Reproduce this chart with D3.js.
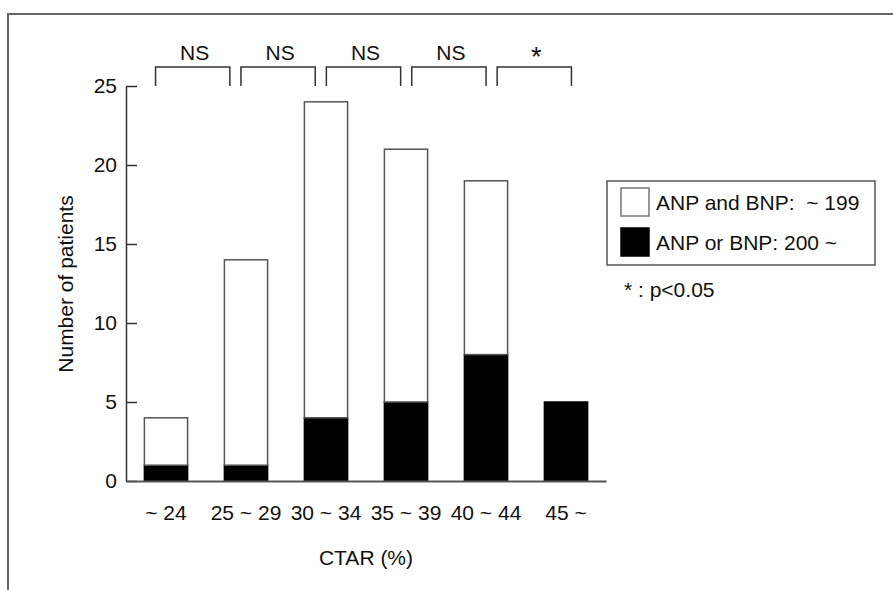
<!DOCTYPE html>
<html>
<head>
<meta charset="utf-8">
<script src="https://cdn.jsdelivr.net/npm/d3@7"></script>
<style>
  body { margin: 0; background: #fff; }
  svg { display: block; font-family: "Liberation Sans", Arial, sans-serif; }
  text { fill: #111; white-space: pre; }
</style>
</head>
<body>
<div id="chart"></div>
<script>
// DATA
const categories = ["~ 24", "25 ~ 29", "30 ~ 34", "35 ~ 39", "40 ~ 44", "45 ~"];
const highValues = [1, 1, 4, 5, 8, 5];      // ANP or BNP: 200 ~
const lowValues = [3, 13, 20, 16, 11, 0];   // ANP and BNP: ~ 199
const comparisons = ["NS", "NS", "NS", "NS", "*"];
const yTicks = [0, 5, 10, 15, 20, 25];
const legendLabels = ["ANP and BNP:  ~ 199", "ANP or BNP: 200 ~"];

// SIZE
const width = 893;
const height = 590;
const fontSize = 21;
const lineColor = "#555";

const svg = d3.select("#chart")
    .append("svg")
    .attr("width", width)
    .attr("height", height);

// FRAME (top and left only)
svg.append("path")
    .attr("d", "M8,590V14H893")
    .attr("fill", "none")
    .attr("stroke", "#666")
    .attr("stroke-width", 2);

// SCALES
const x = d3.scaleBand()
    .domain(categories)
    .range([126, 606])
    .paddingInner(0.46)
    .paddingOuter(0.23);

const y = d3.scaleLinear()
    .domain([0, 25])
    .range([481, 86]);

// STACK
const rows = categories.map(function (c, i) {
    return { cat: c, high: highValues[i], low: lowValues[i] };
});
const stack = d3.stack().keys(["high", "low"]);
const series = stack(rows);

const fills = { high: "#000", low: "#fff" };

svg.append("g")
    .selectAll("g")
    .data(series)
    .enter().append("g")
    .attr("fill", function (d) { return fills[d.key]; })
    .attr("stroke", function (d) { return d.key === "low" ? lineColor : "#000"; })
    .attr("stroke-width", 1.5)
    .selectAll("rect")
    .data(function (d) { return d.filter(function (v) { return v[1] > v[0]; }); })
    .enter().append("rect")
    .attr("x", function (d) { return x(d.data.cat); })
    .attr("y", function (d) { return y(d[1]); })
    .attr("width", x.bandwidth())
    .attr("height", function (d) { return y(d[0]) - y(d[1]); });

// Y AXIS
const yAxis = svg.append("g")
    .attr("transform", "translate(126,0)")
    .call(d3.axisLeft(y).tickValues(yTicks).tickSize(-11).tickSizeOuter(0).tickPadding(9));
yAxis.select(".domain").attr("stroke", "#333").attr("stroke-width", 1.5);
yAxis.selectAll(".tick line").attr("stroke", "#333").attr("stroke-width", 1.5);
yAxis.selectAll("text")
    .attr("font-family", "Liberation Sans, Arial, sans-serif")
    .attr("font-size", fontSize)
    .attr("fill", "#111");

// X AXIS
const xAxis = svg.append("g")
    .attr("transform", "translate(0,481)")
    .call(d3.axisBottom(x).tickSize(0).tickSizeOuter(0).tickPadding(24));
xAxis.select(".domain").attr("stroke", "#555").attr("stroke-width", 2);
xAxis.selectAll("text")
    .attr("font-family", "Liberation Sans, Arial, sans-serif")
    .attr("font-size", fontSize)
    .attr("fill", "#111");

// AXIS TITLES
svg.append("text")
    .attr("x", 366)
    .attr("y", 565)
    .attr("text-anchor", "middle")
    .attr("font-size", fontSize)
    .text("CTAR (%)");

svg.append("text")
    .attr("transform", "translate(65,284) rotate(-90)")
    .attr("text-anchor", "middle")
    .attr("dominant-baseline", "central")
    .attr("font-size", fontSize)
    .text("Number of patients");

// SIGNIFICANCE BRACKETS
const b = d3.scaleBand()
    .domain(d3.range(comparisons.length))
    .range([150, 577])
    .paddingInner(0.13)
    .paddingOuter(0.065);

const brackets = svg.append("g")
    .selectAll("g")
    .data(comparisons)
    .enter().append("g");

brackets.append("path")
    .attr("d", function (d, i) {
        const x0 = b(i), x1 = b(i) + b.bandwidth();
        return "M" + x0 + ",86V67H" + x1 + "V86";
    })
    .attr("fill", "none")
    .attr("stroke", "#333")
    .attr("stroke-width", 1.5);

brackets.append("text")
    .attr("x", function (d, i) { return b(i) + b.bandwidth() / 2 + 2; })
    .attr("y", function (d) { return d === "*" ? 66 : 60; })
    .attr("text-anchor", "middle")
    .attr("font-size", function (d) { return d === "*" ? 27 : fontSize; })
    .text(function (d) { return d; });

// LEGEND
const legend = svg.append("g");
legend.append("rect")
    .attr("x", 607)
    .attr("y", 181)
    .attr("width", 268)
    .attr("height", 84)
    .attr("fill", "#fff")
    .attr("stroke", lineColor)
    .attr("stroke-width", 1.5);

const legendFills = ["#fff", "#000"];
const li = legend.selectAll(".item")
    .data(legendLabels)
    .enter().append("g")
    .attr("class", "item")
    .attr("transform", function (d, i) { return "translate(621," + (188 + i * 40) + ")"; });

li.append("rect")
    .attr("width", 28)
    .attr("height", 28)
    .attr("fill", function (d, i) { return legendFills[i]; })
    .attr("stroke", function (d, i) { return i === 0 ? "#777" : "#000"; })
    .attr("stroke-width", 1.5);

li.append("text")
    .attr("x", 35)
    .attr("y", 22)
    .attr("font-size", fontSize)
    .text(function (d) { return d; });

svg.append("text")
    .attr("x", 624)
    .attr("y", 297)
    .attr("font-size", fontSize)
    .text("* : p<0.05");
</script>
</body>
</html>
